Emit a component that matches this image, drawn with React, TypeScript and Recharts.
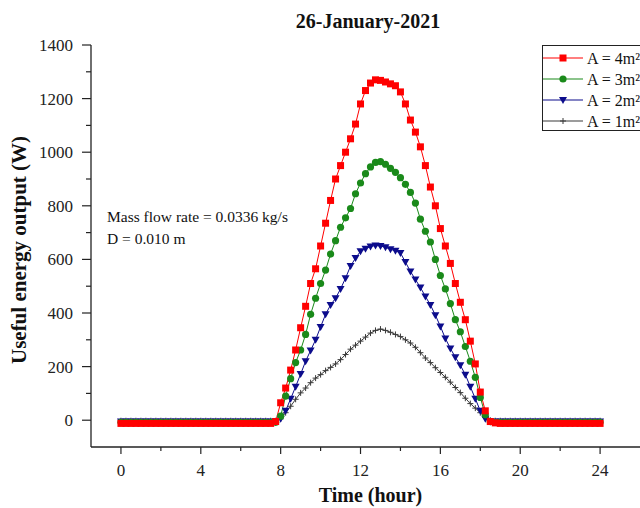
import React from 'react';
import { LineChart, Line, XAxis, YAxis, Legend } from 'recharts';

// time of day, hours (0.25 h steps)
const hours = [
  0, 0.25, 0.5, 0.75, 1, 1.25, 1.5, 1.75, 2, 2.25, 2.5, 2.75, 3, 3.25, 3.5, 3.75,
  4, 4.25, 4.5, 4.75, 5, 5.25, 5.5, 5.75, 6, 6.25, 6.5, 6.75, 7, 7.25, 7.5,
  7.75, 8, 8.25, 8.5, 8.75, 9, 9.25, 9.5, 9.75, 10, 10.25, 10.5, 10.75, 11, 11.25,
  11.5, 11.75, 12, 12.25, 12.5, 12.75, 13, 13.25, 13.5, 13.75, 14, 14.25, 14.5, 14.75,
  15, 15.25, 15.5, 15.75, 16, 16.25, 16.5, 16.75, 17, 17.25, 17.5, 17.75, 18, 18.25,
  18.5, 18.75,
  19, 19.25, 19.5, 19.75, 20, 20.25, 20.5, 20.75, 21, 21.25, 21.5, 21.75, 22, 22.25,
  22.5, 22.75, 23, 23.25, 23.5, 23.75, 24,
];

// useful energy output (W) for each collector area
const area4 = [
  -12, -12, -12, -12, -12, -12, -12, -12, -12, -12, -12, -12, -12, -12, -12, -12,
  -12, -12, -12, -12, -12, -12, -12, -12, -12, -12, -12, -12, -12, -12, -12,
  -5, 65, 120, 187, 262, 345, 425, 510, 565, 650, 735, 820, 900, 950, 1000,
  1050, 1105, 1180, 1230, 1258, 1270, 1268, 1262, 1255, 1248, 1225, 1180, 1120, 1075,
  1020, 950, 870, 800, 715, 650, 585, 510, 440, 375, 295, 210, 105, 35,
  -5, -10,
  -12, -12, -12, -12, -12, -12, -12, -12, -12, -12, -12, -12, -12, -12,
  -12, -12, -12, -12, -12, -12, -12,
];

const area3 = [
  -8, -8, -8, -8, -8, -8, -8, -8, -8, -8, -8, -8, -8, -8, -8, -8,
  -8, -8, -8, -8, -8, -8, -8, -8, -8, -8, -8, -8, -8, -8, -8,
  -8, 15, 90, 155, 215, 262, 320, 395, 455, 510, 560, 620, 670, 720, 755,
  790, 845, 885, 920, 945, 962, 965, 955, 940, 925, 905, 880, 850, 810,
  750, 705, 665, 600, 540, 490, 435, 375, 330, 275, 220, 160, 85, 20,
  -5, -8,
  -8, -8, -8, -8, -8, -8, -8, -8, -8, -8, -8, -8, -8, -8,
  -8, -8, -8, -8, -8, -8, -8,
];

const area2 = [
  -5, -5, -5, -5, -5, -5, -5, -5, -5, -5, -5, -5, -5, -5, -5, -5,
  -5, -5, -5, -5, -5, -5, -5, -5, -5, -5, -5, -5, -5, -5, -5,
  -5, 5, 35, 80, 125, 172, 220, 260, 300, 348, 395, 430, 455, 490, 530,
  575, 605, 630, 640, 648, 652, 650, 645, 638, 632, 624, 590, 555, 525,
  495, 462, 430, 392, 350, 305, 268, 235, 205, 170, 125, 80, 35, 5,
  -5, -5,
  -5, -5, -5, -5, -5, -5, -5, -5, -5, -5, -5, -5, -5, -5,
  -5, -5, -5, -5, -5, -5, -5,
];

const area1 = [
  -2, -2, -2, -2, -2, -2, -2, -2, -2, -2, -2, -2, -2, -2, -2, -2,
  -2, -2, -2, -2, -2, -2, -2, -2, -2, -2, -2, -2, -2, -2, -2,
  -2, 5, 28, 52, 78, 102, 120, 140, 157, 170, 185, 197, 210, 226, 245,
  265, 280, 295, 310, 325, 335, 340, 335, 328, 320, 312, 300, 288, 272,
  252, 232, 215, 196, 178, 160, 142, 122, 103, 82, 62, 45, 28, 10,
  0, -2,
  -2, -2, -2, -2, -2, -2, -2, -2, -2, -2, -2, -2, -2, -2,
  -2, -2, -2, -2, -2, -2, -2,
];

const xTicks = [0, 2, 4, 6, 8, 10, 12, 14, 16, 18, 20, 22, 24];
const yTicks = [0, 100, 200, 300, 400, 500, 600, 700, 800, 900, 1000, 1100, 1200, 1300, 1400];

const data = hours.map((h, i) => ({
  h,
  a1: area1[i],
  a2: area2[i],
  a3: area3[i],
  a4: area4[i],
}));

const FONT = '"Liberation Serif", "Times New Roman", serif';
const AXIS = '#222';

const RED = '#ff0000';
const GREEN = '#1a8a1a';
const BLUE = '#0c0c8c';
const GREY = '#3a3a3a';

const marker = (key: string, cx: number, cy: number, k?: React.Key) => {
  if (key === 'a4') return <rect key={k} x={cx - 3.5} y={cy - 3.5} width={7} height={7} fill={RED} />;
  if (key === 'a3') return <circle key={k} cx={cx} cy={cy} r={3.6} fill={GREEN} />;
  if (key === 'a2')
    return <path key={k} d={`M${cx - 4},${cy - 3}L${cx + 4},${cy - 3}L${cx},${cy + 4}Z`} fill={BLUE} />;
  return (
    <path key={k} d={`M${cx - 3},${cy}L${cx + 3},${cy}M${cx},${cy - 3}L${cx},${cy + 3}`} stroke={GREY} strokeWidth={1} />
  );
};

const dotFor = (key: string) => (p: any) => {
  if (p.cx == null || p.cy == null) return <g key={p.index} />;
  return marker(key, p.cx, p.cy, p.index);
};

const XTick = (props: any) => {
  const { x, y, payload } = props;
  const axisY = y - 17;
  const major = payload.value % 4 === 0;
  return (
    <g>
      <line x1={x} x2={x} y1={axisY} y2={axisY + (major ? 7 : 4)} stroke={AXIS} strokeWidth={1.2} />
      {major && (
        <text x={x} y={y} dy="0.71em" textAnchor="middle" fontSize={17} fontFamily={FONT} fill={AXIS}>
          {payload.value}
        </text>
      )}
    </g>
  );
};

const YTick = (props: any) => {
  const { x, y, payload } = props;
  const axisX = x + 18;
  const major = payload.value % 200 === 0;
  return (
    <g>
      <line x1={axisX - (major ? 9 : 5)} x2={axisX} y1={y} y2={y} stroke={AXIS} strokeWidth={1.2} />
      {major && (
        <text x={x} y={y} dy="0.35em" textAnchor="end" fontSize={17} fontFamily={FONT} fill={AXIS}>
          {payload.value}
        </text>
      )}
    </g>
  );
};

const LegendBox = (props: any) => {
  const items = [...(props.payload || [])].reverse();
  return (
    <div
      style={{
        width: 110,
        height: 86,
        border: `1.3px solid ${AXIS}`,
        background: '#fff',
        boxSizing: 'border-box',
      }}
    >
      <svg width={110} height={84}>
        {items.map((it: any, i: number) => {
          const cy = 12 + i * 21;
          return (
            <g key={it.value}>
              <line x1={0} x2={40} y1={cy} y2={cy} stroke={it.color} strokeWidth={1.2} />
              {marker(it.dataKey, 20, cy)}
              <text x={44} y={cy} dy="0.35em" fontSize={16} fontFamily={FONT} fill="#111">
                {it.value}
              </text>
            </g>
          );
        })}
      </svg>
    </div>
  );
};

const App: React.FC = () => {
  return (
    <div
      style={{
        position: 'absolute',
        left: 0,
        top: 0,
        width: 640,
        height: 508,
        overflow: 'hidden',
        background: '#fff',
        fontFamily: FONT,
      }}
    >
      <div
        style={{
          position: 'absolute',
          left: 368,
          top: 11,
          transform: 'translateX(-50%)',
          fontSize: 20,
          lineHeight: '20px',
          fontWeight: 'bold',
          whiteSpace: 'nowrap',
          color: '#111',
        }}
      >
        26-January-2021
      </div>
      <LineChart width={660} height={508} data={data} margin={{ top: 45, right: 10, left: 0, bottom: 6 }}>
        <XAxis
          dataKey="h"
          type="number"
          domain={[-1.5, 26.5]}
          ticks={xTicks}
          interval={0}
          tickSize={7}
          tickMargin={10}
          tickLine={false}
          tick={<XTick />}
          height={55}
          axisLine={{ stroke: AXIS, strokeWidth: 1.3 }}
          label={{
            value: 'Time (hour)',
            position: 'insideBottom',
            offset: 0,
            style: { fontFamily: FONT, fontSize: 20, fontWeight: 'bold', fill: '#111' },
          }}
        />
        <XAxis
          xAxisId="top"
          dataKey="h"
          type="number"
          domain={[-1.5, 26.5]}
          orientation="top"
          height={0}
          tick={false}
          tickLine={false}
          axisLine={{ stroke: AXIS, strokeWidth: 1.3 }}
        />
        <YAxis
          type="number"
          domain={[-100, 1400]}
          ticks={yTicks}
          interval={0}
          width={91}
          tickSize={9}
          tickMargin={9}
          tickLine={false}
          tick={<YTick />}
          axisLine={{ stroke: AXIS, strokeWidth: 1.3 }}
          label={{
            value: 'Useful energy output (W)',
            angle: -90,
            position: 'insideLeft',
            offset: 19,
            dy: 4,
            style: { textAnchor: 'middle', fontFamily: FONT, fontSize: 21, fontWeight: 'bold', fill: '#111' },
          }}
        />
        <Legend
          layout="vertical"
          align="center"
          verticalAlign="middle"
          wrapperStyle={{ left: 542, top: 45, width: 'auto' }}
          content={<LegendBox />}
        />
        <Line dataKey="a1" name="A = 1m²" stroke={GREY} strokeWidth={1} dot={dotFor('a1')} isAnimationActive={false} />
        <Line dataKey="a2" name="A = 2m²" stroke={BLUE} strokeWidth={1} dot={dotFor('a2')} isAnimationActive={false} />
        <Line dataKey="a3" name="A = 3m²" stroke={GREEN} strokeWidth={1} dot={dotFor('a3')} isAnimationActive={false} />
        <Line dataKey="a4" name="A = 4m²" stroke={RED} strokeWidth={1} dot={dotFor('a4')} isAnimationActive={false} />
      </LineChart>
      <div
        style={{
          position: 'absolute',
          left: 107,
          top: 206,
          fontSize: 15.5,
          lineHeight: '22px',
          color: '#111',
          whiteSpace: 'nowrap',
        }}
      >
        <div>Mass flow rate = 0.0336 kg/s</div>
        <div>D = 0.010 m</div>
      </div>
    </div>
  );
};

export default App;
